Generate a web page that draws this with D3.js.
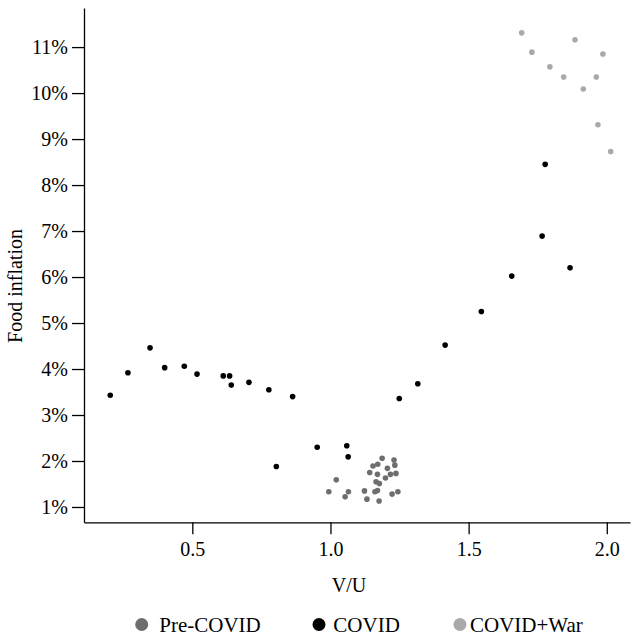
<!DOCTYPE html>
<html>
<head>
<meta charset="utf-8">
<script src="https://cdn.jsdelivr.net/npm/d3@7"></script>
<style>
  body { margin: 0; background: #fff; }
  svg { display: block; font-family: "Liberation Serif", "Times New Roman", serif; }
</style>
</head>
<body>
<script>
// V/U ratio vs food inflation (%), one array per period
const preCovidVU  = [1.187, 1.230, 1.233, 1.154, 1.171, 1.206, 1.142, 1.170, 1.217, 1.237, 1.199, 1.021,
                     1.165, 1.177, 0.994, 1.065, 1.053, 1.123, 1.161, 1.170, 1.132, 1.176, 1.223, 1.244];
const preCovidInf = [2.06, 2.02, 1.91, 1.89, 1.93, 1.84, 1.75, 1.71, 1.71, 1.73, 1.63, 1.59,
                     1.55, 1.51, 1.33, 1.33, 1.22, 1.35, 1.33, 1.36, 1.17, 1.13, 1.28, 1.33];

const covidVU  = [0.203, 0.267, 0.347, 0.400, 0.471, 0.517, 0.612, 0.635, 0.641, 0.705, 0.777, 0.863,
                  0.952, 0.804, 1.059, 1.064, 1.249, 1.316, 1.415, 1.546, 1.656, 1.766, 1.867, 1.777];
const covidInf = [3.43, 3.92, 4.46, 4.03, 4.06, 3.89, 3.85, 3.85, 3.65, 3.71, 3.55, 3.40,
                  2.30, 1.88, 2.33, 2.09, 3.36, 3.68, 4.52, 5.25, 6.02, 6.89, 6.20, 8.45];

const warVU  = [1.692, 1.885, 1.729, 1.986, 1.794, 1.844, 1.962, 1.915, 1.968, 2.014];
const warInf = [11.31, 11.16, 10.89, 10.85, 10.57, 10.35, 10.35, 10.09, 9.31, 8.73];

const xTicks = [0.5, 1.0, 1.5, 2.0];
const yTicks = [1, 2, 3, 4, 5, 6, 7, 8, 9, 10, 11];

const seriesNames  = ["Pre-COVID", "COVID", "COVID+War"];
const seriesColors = ["#6e6e6e", "#000000", "#a9a9a9"];

const W = 633, H = 639;
const FONT = "'Liberation Serif', 'Times New Roman', serif";
const svg = d3.select("body").append("svg").attr("width", W).attr("height", H);

const x = d3.scaleLinear().domain([0.108, 2.084]).range([84, 630]);
const y = d3.scaleLinear().domain([0.667, 11.85]).range([522.3, 8]);

// axes
const xAxis = svg.append("g")
  .attr("transform", `translate(0,${y.range()[0]})`)
  .call(d3.axisBottom(x).tickValues(xTicks).tickFormat(d3.format(".1f"))
    .tickSize(12).tickSizeOuter(0).tickPadding(8));

const yAxis = svg.append("g")
  .attr("transform", `translate(${x.range()[0]},0)`)
  .call(d3.axisLeft(y).tickValues(yTicks).tickFormat(d => d + "%")
    .tickSize(12).tickSizeOuter(0).tickPadding(4));

[xAxis, yAxis].forEach(g => {
  g.attr("font-family", FONT);
  g.selectAll("path, line").attr("stroke", "#000").attr("stroke-width", 1.3);
  g.selectAll("text").attr("font-size", 20).attr("fill", "#000").style("font-family", FONT);
});

// axis titles
svg.append("text")
  .attr("x", 349).attr("y", 592)
  .attr("text-anchor", "middle").attr("font-size", 20)
  .style("font-family", FONT)
  .text("V/U");

svg.append("text")
  .attr("transform", "translate(22,286) rotate(-90)")
  .attr("text-anchor", "middle").attr("font-size", 20)
  .style("font-family", FONT)
  .text("Food inflation");

// points
const series = [
  { vu: preCovidVU, inf: preCovidInf },
  { vu: covidVU, inf: covidInf },
  { vu: warVU, inf: warInf }
];

series.forEach((s, i) => {
  svg.append("g").selectAll("circle")
    .data(s.vu.map((v, j) => [v, s.inf[j]]))
    .enter().append("circle")
    .attr("cx", d => x(d[0]))
    .attr("cy", d => y(d[1]))
    .attr("r", 2.8)
    .attr("fill", seriesColors[i]);
});

// legend
const legendCircleX = [141.7, 319, 460];
const legendTextX = [159.3, 333.3, 470];
const legend = svg.append("g");
seriesNames.forEach((name, i) => {
  legend.append("circle")
    .attr("cx", legendCircleX[i]).attr("cy", 624.5).attr("r", 6.5)
    .attr("fill", seriesColors[i]);
  legend.append("text")
    .attr("x", legendTextX[i]).attr("y", 631.5)
    .attr("font-size", 21)
    .style("font-family", FONT)
    .text(name);
});
</script>
</body>
</html>
